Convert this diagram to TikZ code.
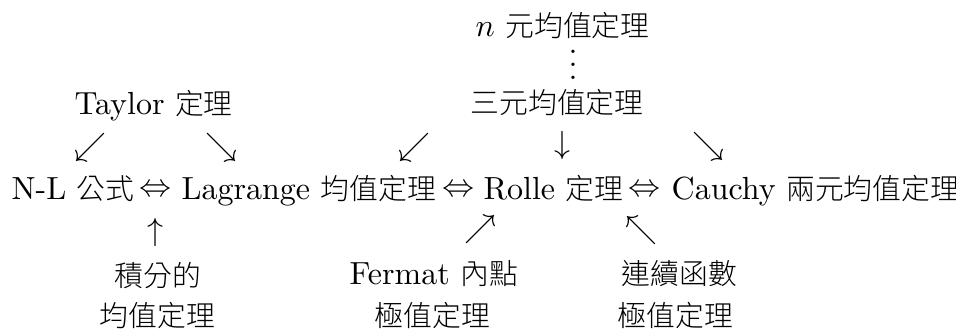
\documentclass[tikz,border=0pt]{standalone}
\usepackage{fontspec}
\newfontfamily\cjk{Noto Sans CJK TC Light}[Scale=0.9]
\begin{document}
\begin{tikzpicture}[x=0.3125pt,y=-0.3125pt,
  txt/.style={anchor=base west,inner sep=0pt,font=\fontsize{10pt}{12pt}\selectfont},
  sym/.style={anchor=center,inner sep=0pt,font=\fontsize{10pt}{12pt}\selectfont}]
\useasboundingbox (0,0) rectangle (956,329);
% top
\node[txt] (nth) at (475,36) {$n$ {\cjk 元均值定理}};
\node[sym,anchor=base] (vd) at (573,79) {\smash{$\vdots$}};
\node[txt] (taylor) at (74,114) {Taylor {\cjk 定理}};
\node[txt] (three) at (470,113) {\cjk 三元均值定理};
% arrows row 1
\node[sym] (a1) at (90,147) {$\swarrow$};
\node[sym] (a2) at (221,147) {$\searrow$};
\node[sym] (a3) at (414,147) {$\swarrow$};
\node[sym] (a4) at (562,145) {$\downarrow$};
\node[sym] (a5) at (708,146) {$\searrow$};
% main row
\node[txt] (nl) at (11,199) {N-L {\cjk 公式}};
\node[sym] (e1) at (155,191) {$\Leftrightarrow$};
\node[txt] (lag) at (181,199) {Lagrange {\cjk 均值定理}};
\node[sym] (e2) at (458,191) {$\Leftrightarrow$};
\node[txt] (rolle) at (483,199) {Rolle {\cjk 定理}};
\node[sym] (e3) at (644,191) {$\Leftrightarrow$};
\node[txt] (cauchy) at (671,199) {Cauchy {\cjk 兩元均值定理}};
% arrows row 2
\node[sym] (b1) at (155,232) {$\uparrow$};
\node[sym] (b2) at (480,229) {$\nearrow$};
\node[sym] (b3) at (641,230) {$\nwarrow$};
% bottom
\node[txt] (int1) at (114,286) {\cjk 積分的};
\node[txt] (int2) at (99,326) {\cjk 均值定理};
\node[txt] (fer1) at (349,284) {Fermat {\cjk 內點}};
\node[txt] (fer2) at (374,326) {\cjk 極值定理};
\node[txt] (con1) at (621,284) {\cjk 連續函數};
\node[txt] (con2) at (617,326) {\cjk 極值定理};
\end{tikzpicture}
\end{document}
